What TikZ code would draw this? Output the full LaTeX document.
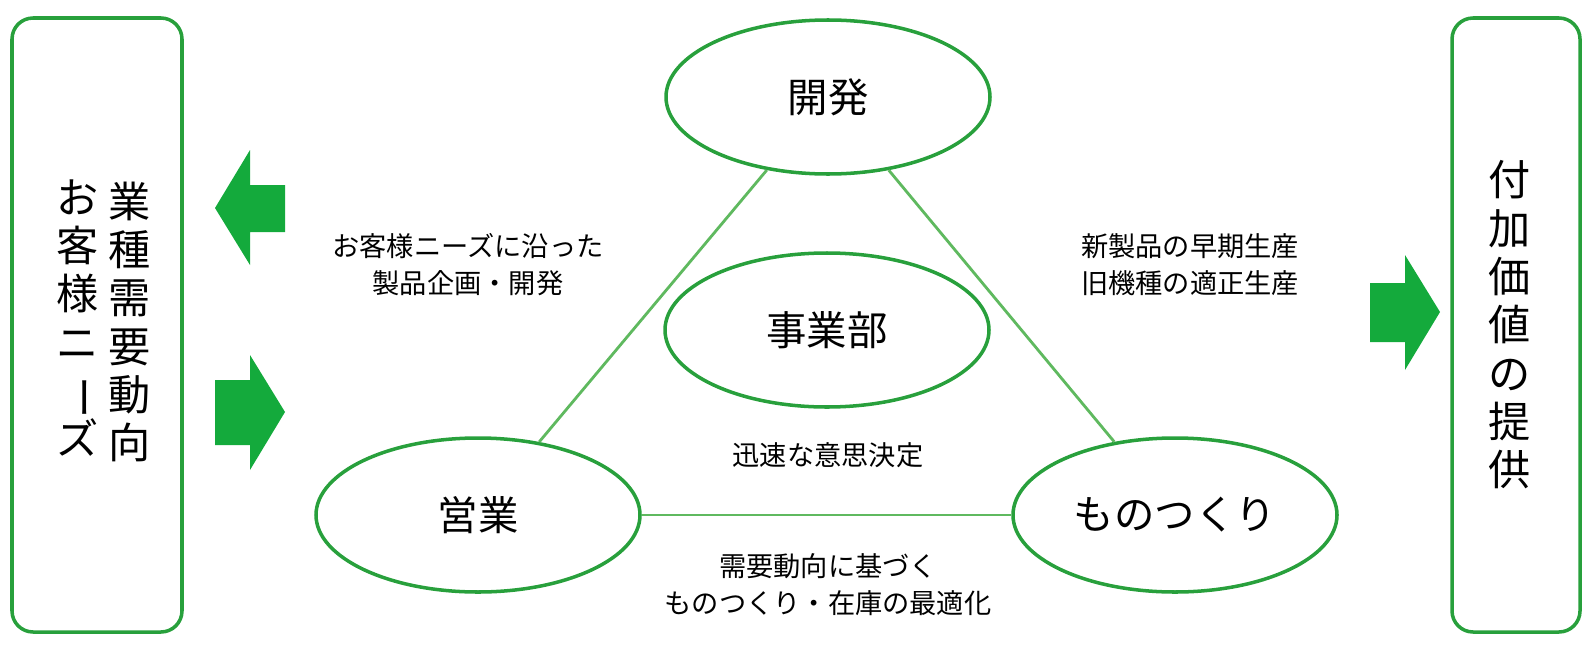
\documentclass[tikz,border=0pt]{standalone}
\usepackage{fontspec}
\setmainfont{Noto Sans CJK JP}
\usetikzlibrary{shapes.geometric}
\definecolor{frame}{RGB}{40,160,60}
\definecolor{arrowgreen}{RGB}{20,170,60}
\definecolor{linkgreen}{RGB}{95,185,95}
\newcommand{\vbar}{\rotatebox[origin=c]{-90}{ー}}

\begin{document}
\begin{tikzpicture}[x=0.02cm, y=-0.02cm,
    part/.style={draw=frame, line width=2pt, ellipse, minimum width=324*0.02cm, minimum height=154*0.02cm, font=\fontsize{23}{27}\selectfont},
    side/.style={draw=frame, line width=2pt, rounded corners=12pt},
    vtext/.style={align=center, font=\fontsize{24}{27.5}\selectfont},
    note/.style={align=center, font=\fontsize{15.5}{21}\selectfont},
    link/.style={draw=linkgreen, line width=1.6pt},
    bigarrow/.style={fill=arrowgreen, draw=none}]
  \useasboundingbox (0,0) rectangle (1591,649);

  % 両側の枠
  \draw[side] (12,18) rectangle (182,632);
  \draw[side] (1452,18) rectangle (1580,632);
  \node[vtext] (demand) at (130,322) {業\\種\\需\\要\\動\\向};
  \node[vtext] (needs) at (78,318) {お\\客\\様\\ニ\\\vbar\\ズ};
  \node[vtext] (value) at (1510,325) {付\\加\\価\\値\\の\\提\\供};

  % 矢印
  \fill[bigarrow] (215,208)--(250,150)--(250,185)--(285,185)--(285,232)--(250,232)--(250,265)--cycle;
  \fill[bigarrow] (215,380)--(250,380)--(250,355)--(285,412)--(250,470)--(250,445)--(215,445)--cycle;
  \fill[bigarrow] (1370,283)--(1405,283)--(1405,255)--(1440,312)--(1405,370)--(1405,342)--(1370,342)--cycle;

  % 各部門
  \node[part] (dev) at (828,97) {開発};
  \node[part] (hq) at (827,330) {事業部};
  \node[part] (sales) at (478,515) {営業};
  \node[part] (make) at (1175,515) {ものつくり};

  \draw[link] (dev) -- (sales);
  \draw[link] (dev) -- (make);
  \draw[link] (sales) -- (make);

  \node[note] (plan) at (468,265) {お客様ニーズに沿った\\製品企画・開発};
  \node[note] (prod) at (1190,265) {新製品の早期生産\\旧機種の適正生産};
  \node[note] (fast) at (828,455) {迅速な意思決定};
  \node[note] (stock) at (828,585) {需要動向に基づく\\ものつくり・在庫の最適化};
\end{tikzpicture}
\end{document}
